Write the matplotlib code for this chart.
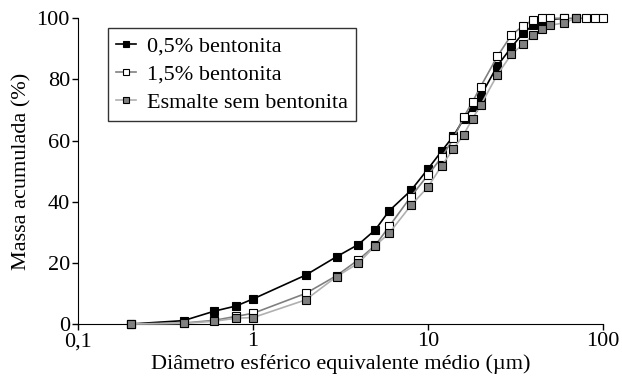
import matplotlib
matplotlib.use("Agg")
import matplotlib.pyplot as plt

x_black = [0.2, 0.4, 0.6, 0.8, 1, 2, 3, 4, 5, 6, 8, 10, 12, 14, 16, 18, 20, 25, 30, 35, 40, 45, 50, 60]
y_black = [0, 1.1, 4.2, 5.9, 8.2, 16, 22, 26, 30.8, 37, 43.7, 50.7, 56.6, 61.5, 67, 71, 74.5, 84.5, 90.5, 95.1, 97.8, 99, 99.6, 100]

x_white = [0.2, 0.4, 0.6, 0.8, 1, 2, 3, 4, 5, 6, 8, 10, 12, 14, 16, 18, 20, 25, 30, 35, 40, 45, 50, 60, 70, 80, 90, 100]
y_white = [0, 0.3, 1.2, 2.5, 3.5, 10, 15.8, 21, 25.7, 31.9, 41.7, 48.7, 54.6, 60.7, 67.6, 72.7, 77.6, 87.6, 94.5, 97.5, 99.5, 100, 100, 100, 100, 100, 100, 100]

x_gray = [0.2, 0.4, 0.6, 0.8, 1, 2, 3, 4, 5, 6, 8, 10, 12, 14, 16, 18, 20, 25, 30, 35, 40, 45, 50, 60, 70]
y_gray = [0, 0.2, 0.9, 1.9, 2.1, 7.9, 15.5, 19.9, 25.6, 29.7, 38.8, 44.8, 51.8, 57.3, 61.9, 67.2, 71.5, 81.6, 88.2, 91.5, 94.5, 96.6, 97.7, 98.5, 100]

labels = ["0,5% bentonita", "1,5% bentonita", "Esmalte sem bentonita"]
x_ticks = [0.1, 1, 10, 100]
x_ticklabels = ["0,1", "1", "10", "100"]
y_ticks = [0, 20, 40, 60, 80, 100]

plt.rcParams['font.family'] = ['Liberation Serif', 'DejaVu Serif']
plt.rcParams['font.size'] = 16

fig = plt.figure(figsize=(6.22, 3.78), dpi=100)
ax = fig.add_axes([0.1259, 0.1429, 0.969 - 0.1259, 0.9516 - 0.1429])

ms = 5.5
ax.plot(x_black, y_black, color='black', lw=1.2, marker='s', ms=ms,
        mfc='black', mec='black', mew=0.8, label=labels[0], zorder=3, clip_on=False)
ax.plot(x_white, y_white, color='#808080', lw=1.2, marker='s', ms=ms,
        mfc='white', mec='black', mew=0.8, label=labels[1], zorder=4, clip_on=False)
ax.plot(x_gray, y_gray, color='#b0b0b0', lw=1.2, marker='s', ms=ms,
        mfc='#808080', mec='black', mew=0.8, label=labels[2], zorder=5, clip_on=False)

ax.set_xscale('log')
ax.set_xlim(0.1, 100)
ax.set_ylim(0, 100)
ax.set_xticks(x_ticks)
ax.set_xticklabels(x_ticklabels)
ax.xaxis.set_minor_locator(matplotlib.ticker.NullLocator())
ax.set_yticks(y_ticks)
ax.spines['top'].set_visible(False)
ax.spines['right'].set_visible(False)
ax.tick_params(direction='out', length=4, width=1, pad=2)
ax.set_xlabel("Diâmetro esférico equivalente médio (µm)", labelpad=2)
ax.set_ylabel("Massa acumulada (%)", labelpad=4)

leg = ax.legend(loc='upper left', bbox_to_anchor=(0.057, 0.968), borderaxespad=0,
                frameon=True, fancybox=False, edgecolor='black', handlelength=0.9,
                handletextpad=0.5, borderpad=0.35, labelspacing=0.35,
                markerscale=0.7)
leg.get_frame().set_linewidth(1.0)

fig.savefig("out.png", dpi=100)
